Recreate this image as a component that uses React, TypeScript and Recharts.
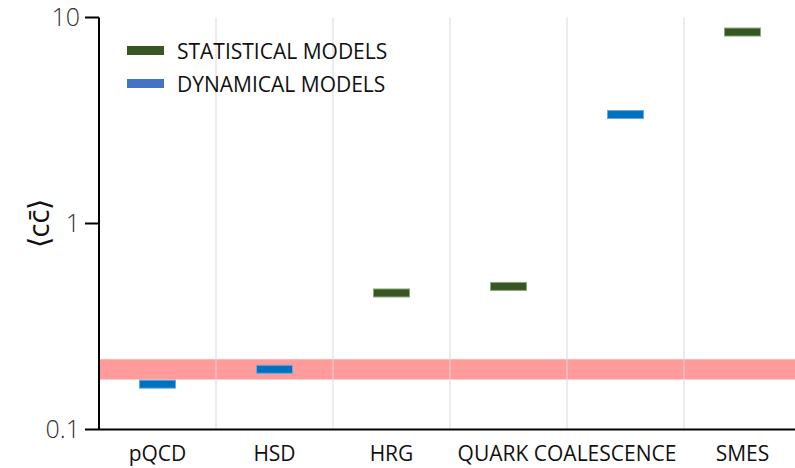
import React from 'react'
import { ComposedChart, Line, XAxis, YAxis, ReferenceLine, ReferenceArea, Legend } from 'recharts'

const slots = ['pQCD', 'HSD', 'HRG', 'QUARK COALESCENCE', 'QUARK COALESCENCE', 'SMES']
const statistical = [null, null, 0.46, 0.495, null, 8.5]
const dynamical = [0.166, 0.196, null, null, 3.38, null]
const yTicks = [0.1, 1, 10]
const bandRange = [0.175, 0.219]
const legendItems = [
    { name: 'STATISTICAL MODELS', color: '#375623' },
    { name: 'DYNAMICAL MODELS', color: '#4472C4' },
]

const FONT = "'Open Sans', sans-serif"
const GREEN = '#375623'
const BLUE = '#0070C0'

const rows = slots.map((s, i) => ({ x: i + 0.5, slot: s, statistical: statistical[i], dynamical: dynamical[i] }))

// group consecutive identical slot names so a label can span several slots
const groups: { label: string; start: number; count: number }[] = []
slots.forEach((s, i) => {
    const last = groups[groups.length - 1]
    if (last && last.label === s) last.count++
    else groups.push({ label: s, start: i, count: 1 })
})
const groupTicks = groups.map(g => g.start + g.count / 2)
const groupLabel = (v: number) => groups.find(g => Math.abs(g.start + g.count / 2 - v) < 1e-6)?.label ?? ''

const marker = (color: string, edge: string) => (props: any) => {
    const { cx, cy, key, value } = props
    if (cy == null || value == null || Number.isNaN(cy)) return <g key={key} />
    return <rect key={key} x={cx - 18} y={cy - 4} width={36} height={8} fill={color} stroke={edge} strokeWidth={1} />
}

const LegendBox = () => (
    <div style={{ fontFamily: FONT, fontSize: 21, color: '#111' }}>
        {legendItems.map(item => (
            <div key={item.name} style={{ display: 'flex', alignItems: 'center', height: 33 }}>
                <span style={{ display: 'inline-block', width: 37, height: 9, background: item.color, marginRight: 13 }} />
                <span>{item.name}</span>
            </div>
        ))}
    </div>
)

const App = () => {
    return (
        <div style={{ position: 'absolute', left: 0, top: 0, width: 795, height: 468, overflow: 'hidden', background: '#fff' }}>
            <ComposedChart width={810} height={468} data={rows} margin={{ top: 17.5, right: 9, bottom: 0, left: 0 }}>
                <XAxis xAxisId="main" type="number" dataKey="x" domain={[0, slots.length]} ticks={groupTicks}
                    tickFormatter={groupLabel} interval={0} tickLine={false} tickSize={15} height={38.5}
                    axisLine={{ stroke: '#000', strokeWidth: 2 }}
                    tick={{ fill: '#111', fontSize: 21, fontFamily: FONT }} />
                <XAxis xAxisId="top" orientation="top" type="number" dataKey="x" domain={[0, slots.length]}
                    tick={false} tickLine={false} height={0} axisLine={{ stroke: '#000', strokeWidth: 2 }} />
                <YAxis type="number" scale="log" domain={[0.1, 10]} ticks={yTicks} allowDataOverflow width={99}
                    tickSize={14} tickMargin={5} axisLine={{ stroke: '#000', strokeWidth: 2 }}
                    tickLine={{ stroke: '#000', strokeWidth: 2 }}
                    tick={{ fill: '#333', fontSize: 25, fontFamily: FONT, fontWeight: 300 }}
                    label={{ value: '⟨cc̄⟩', angle: -90, position: 'center', dx: -11, style: { fill: '#111', fontSize: 29, fontFamily: FONT } }} />
                {slots.slice(1).map((_, i) => (
                    <ReferenceLine key={i} xAxisId="main" x={i + 1} stroke="#d9d9d9" strokeWidth={1} />
                ))}
                <ReferenceArea xAxisId="main" y1={bandRange[0]} y2={bandRange[1]} fill="#FF9B9B" fillOpacity={1} stroke="none" />
                <Legend layout="vertical" align="center" verticalAlign="middle" content={<LegendBox />}
                    wrapperStyle={{ top: 34, left: 127, width: 320, height: 70 }} />
                <Line xAxisId="main" dataKey="statistical" stroke="none" dot={marker(GREEN, '#8aa878')} activeDot={false}
                    isAnimationActive={false} legendType="none" />
                <Line xAxisId="main" dataKey="dynamical" stroke="none" dot={marker(BLUE, '#6fa8d8')} activeDot={false}
                    isAnimationActive={false} legendType="none" />
            </ComposedChart>
        </div>
    )
}

export default App
